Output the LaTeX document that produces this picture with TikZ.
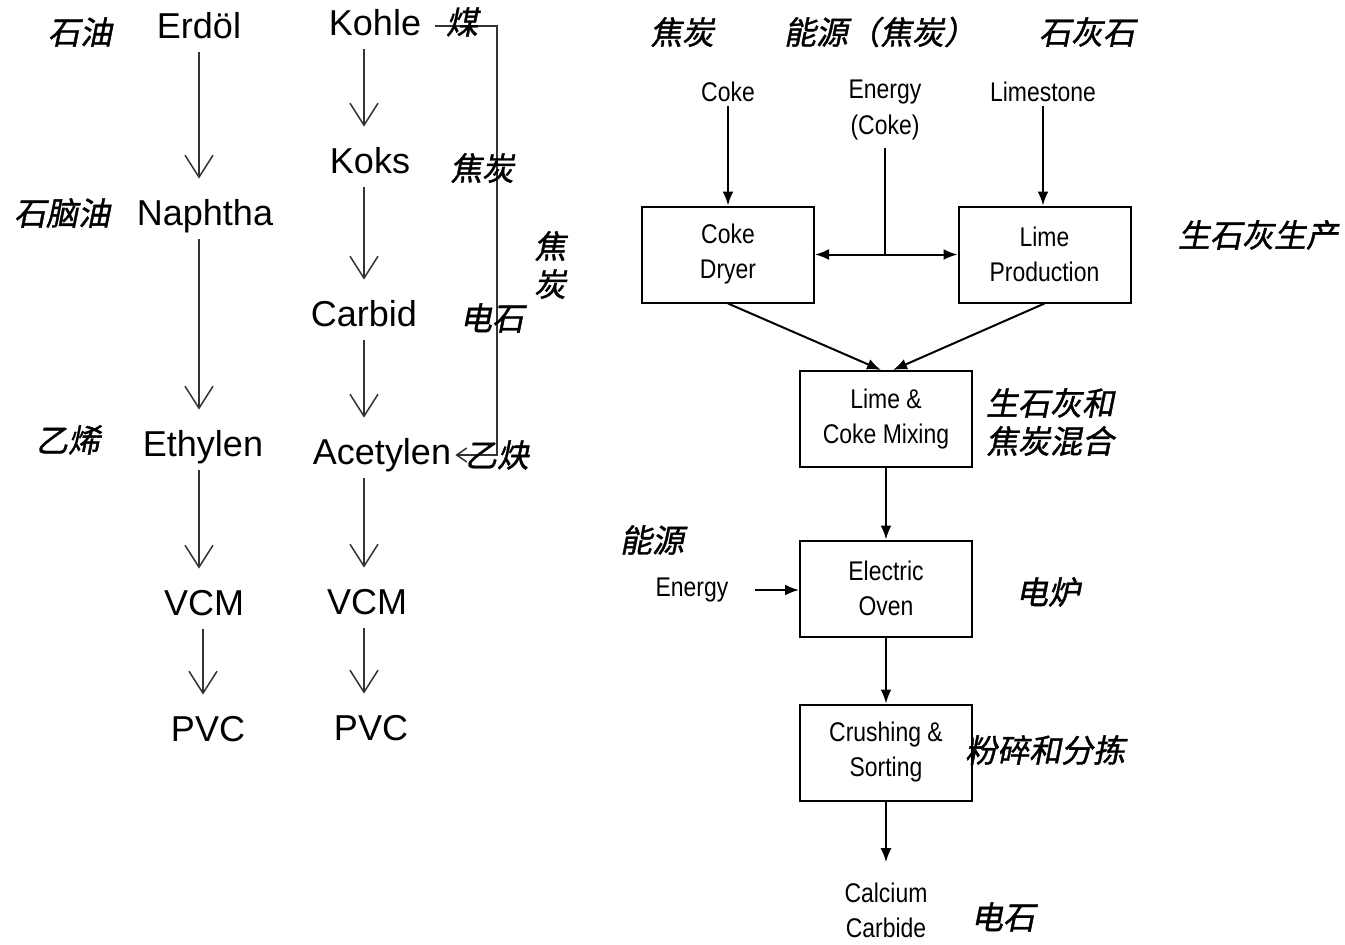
\documentclass[tikz,border=0pt]{standalone}
\usepackage{fontspec}
\setmainfont{Liberation Sans}
\newfontfamily\cjk{Noto Sans CJK SC}[FakeSlant=0.2,FakeBold=1.2]
\newfontfamily\narrow{Liberation Sans}[FakeStretch=0.85]
\usepackage{tikz}
\usetikzlibrary{arrows}
\usetikzlibrary{arrows.meta}

\begin{document}
\begin{tikzpicture}[x=0.5pt,y=-0.5pt,>={Latex[length=7pt,width=5.5pt]},
    word/.style={font=\fontsize{18}{20}\selectfont,text height=13pt,text depth=4pt,inner sep=2pt},
    zh/.style={font=\cjk\fontsize{16}{19}\selectfont,inner sep=0pt,align=center},
    label node/.style={font=\narrow\fontsize{13.5}{17.5}\selectfont,align=center,inner sep=2pt},
    box node/.style={label node,draw,line width=1pt,minimum width=86pt,minimum height=48pt},
    open arrow/.style={-{Straight Barb[length=11pt,width=14pt]},line width=0.75pt,draw=black!80,shorten >=8pt,shorten <=1pt},
    flow arrow/.style={->,line width=1pt}]
   \useasboundingbox (0,0) rectangle (1345,944);
   % left: two routes to PVC
   \coordinate (cola) at (199,0);
   \coordinate (colb) at (364,0);
   \coordinate (loop) at (497,0);
   \node[word] (erdol) at (199,29) {Erdöl};
   \node[word] (naphtha) at (205,216) {Naphtha};
   \node[word] (ethylen) at (203,447) {Ethylen};
   \node[word] (vcml) at (204,606) {VCM};
   \node[word] (pvcl) at (208,732) {PVC};
   \node[word] (kohle) at (375,26) {Kohle};
   \node[word] (koks) at (370,164) {Koks};
   \node[word] (carbid) at (364,317) {Carbid};
   \node[word] (acetylen) at (382,455) {Acetylen};
   \node[word] (vcmr) at (367,605) {VCM};
   \node[word] (pvcr) at (371,731) {PVC};
   \draw[open arrow] (erdol.south -| cola) -- (naphtha.north -| cola);
   \draw[open arrow] (naphtha.south -| cola) -- (ethylen.north -| cola);
   \draw[open arrow] (ethylen.south -| cola) -- (vcml.north -| cola);
   \draw[open arrow] ([xshift=2pt]vcml.south -| cola) -- ([xshift=2pt]pvcl.north -| cola);
   \draw[open arrow] (kohle.south -| colb) -- (koks.north -| colb);
   \draw[open arrow] (koks.south -| colb) -- (carbid.north -| colb);
   \draw[open arrow] (carbid.south -| colb) -- (acetylen.north -| colb);
   \draw[open arrow] (acetylen.south -| colb) -- (vcmr.north -| colb);
   \draw[open arrow] (vcmr.south -| colb) -- (pvcr.north -| colb);
   \draw[-{Straight Barb[length=5pt,width=7pt]},line width=0.75pt,draw=black!80,shorten <=5pt]
     (kohle.east) -- (kohle.east -| loop) |- (acetylen.east);
   \node[zh] (shiyou) at (80,32) {石油};
   \node[zh] (naozh) at (62,213) {石脑油};
   \node[zh] (yixi) at (68,440) {乙烯};
   \node[zh] (mei) at (462,22) {煤};
   \node[zh] (jiaotan) at (482,168) {焦炭};
   \node[zh] (jiaotanv) at (550,265) {焦\\炭};
   \node[zh] (dianshi) at (492,318) {电石};
   \node[zh] (yique) at (497,455) {乙炔};
   % right: carbide process
   \node[label node] (coke) at (728,92) {Coke};
   \node[label node] (energyc) at (885,110) {Energy\\(Coke)};
   \node[label node] (limestone) at (1043,92) {Limestone};
   \node[box node] (dryer) at (728,254.5) {Coke\\Dryer};
   \node[box node] (lime) at (1044.5,254.5) {Lime\\Production};
   \node[box node] (mix) at (886,419) {Lime \&\\Coke Mixing};
   \node[box node] (oven) at (886,588.5) {Electric\\Oven};
   \node[box node] (crush) at (886,752.5) {Crushing \&\\Sorting};
   \node[label node] (energy) at (692,590) {Energy};
   \node[label node] (calcium) at (886,910) {Calcium\\Carbide};
   \coordinate (split) at (energyc |- dryer);
   \draw[flow arrow] (coke) -- (dryer);
   \draw[line width=1pt,shorten <=2pt] (energyc) -- (split);
   \draw[flow arrow,<->] (dryer) -- (lime);
   \draw[flow arrow] (limestone) -- (limestone |- lime.north);
   \draw[flow arrow] (dryer.south) -- ([xshift=-2.5pt]mix.north);
   \draw[flow arrow] (lime.south) -- ([xshift=3.5pt]mix.north);
   \draw[flow arrow] (mix) -- (oven);
   \draw[flow arrow,shorten <=11pt] (energy) -- (energy -| oven.west);
   \draw[flow arrow] (oven) -- (crush);
   \draw[flow arrow,shorten >=8pt] (crush) -- (calcium);
   \node[zh] (jiaotanr) at (682,32) {焦炭};
   \node[zh] (nengyuanc) at (880,32) {能源（焦炭）};
   \node[zh] (shihuishi) at (1087,32) {石灰石};
   \node[zh] (shenghui) at (1258,235) {生石灰生产};
   \node[zh] (hunhe) at (1050,422) {生石灰和\\焦炭混合};
   \node[zh] (nengyuan) at (652,540) {能源};
   \node[zh] (dianlu) at (1048,592) {电炉};
   \node[zh] (fensui) at (1045,750) {粉碎和分拣};
   \node[zh] (dianshir) at (1003,917) {电石};
\end{tikzpicture}
\end{document}
